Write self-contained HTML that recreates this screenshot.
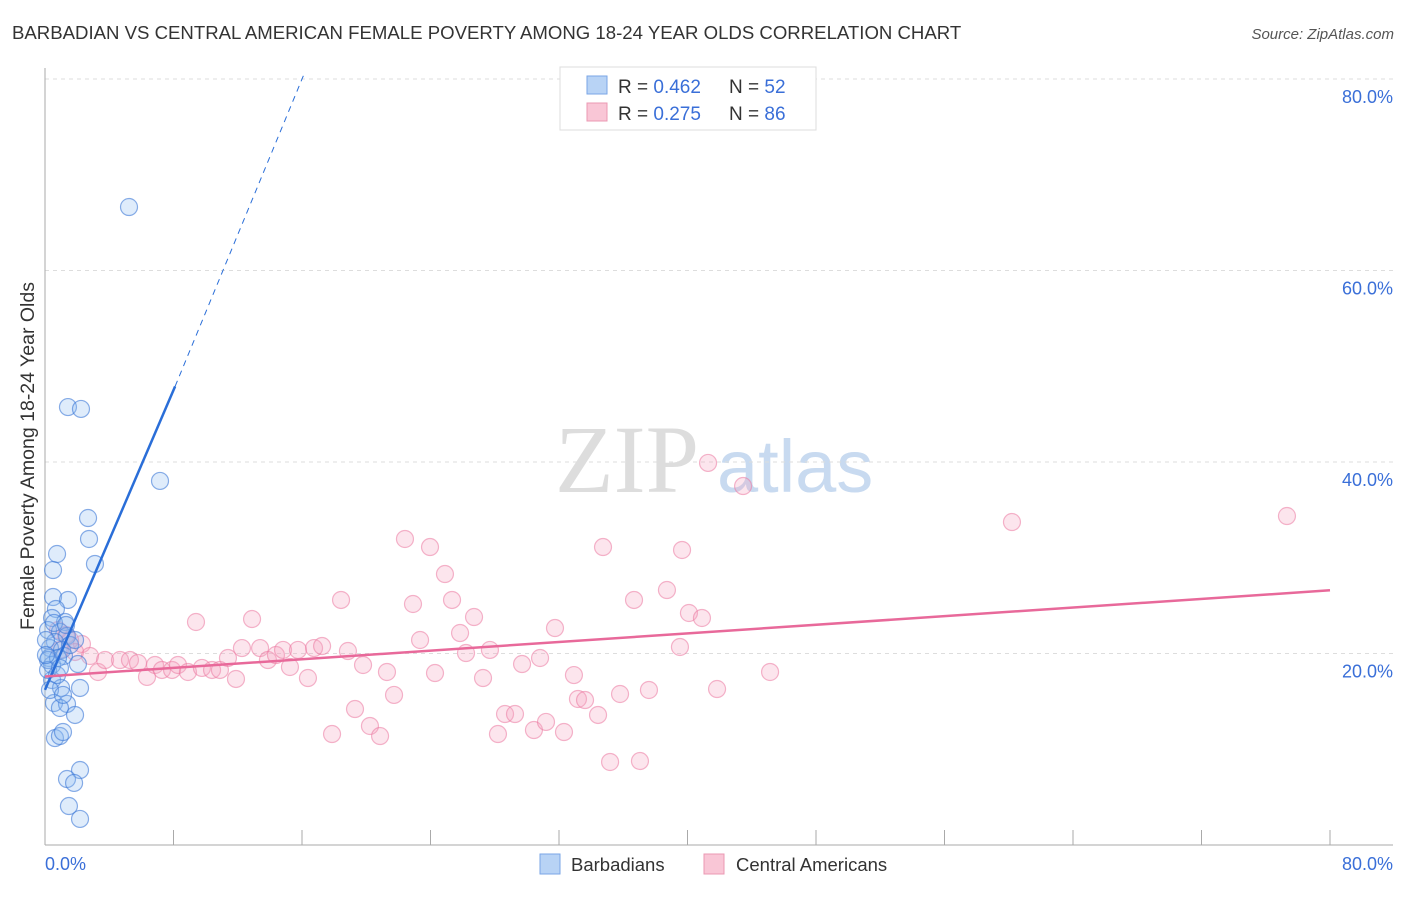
<!DOCTYPE html>
<html><head><meta charset="utf-8"><style>
body{margin:0;background:#fff;font-family:"Liberation Sans",sans-serif;}
</style></head><body>
<svg width="1406" height="892" xmlns="http://www.w3.org/2000/svg" font-family="Liberation Sans, sans-serif">
<text x="12" y="39" font-size="18.6" fill="#333">BARBADIAN VS CENTRAL AMERICAN FEMALE POVERTY AMONG 18-24 YEAR OLDS CORRELATION CHART</text>
<text x="1394" y="39" font-size="15" fill="#555" text-anchor="end" font-style="italic">Source: ZipAtlas.com</text>
<g><text x="555" y="492" font-size="96" fill="#ddd" font-family="Liberation Serif, serif">ZIP</text><text x="717" y="492" font-size="74" fill="#c8daf0">atlas</text></g>
<g id="grid"></g>
<g id="axes"></g>
<g id="pts"></g>
<g id="lines"></g>
<text transform="translate(34,456) rotate(-90)" font-size="19.5" fill="#333" text-anchor="middle">Female Poverty Among 18-24 Year Olds</text>
<text x="45" y="870" font-size="18" fill="#3a6fd8">0.0%</text>
<text x="1393" y="870" font-size="18" fill="#3a6fd8" text-anchor="end">80.0%</text>
<g>
<rect x="560" y="67" width="256" height="63" fill="#fff" stroke="#ddd"/>
<rect x="587" y="76" width="20" height="18" fill="#b8d3f5" stroke="#7aa6e6"/>
<rect x="587" y="103" width="20" height="18" fill="#f9c6d6" stroke="#eb98b3"/>
<text x="618" y="93" font-size="19" fill="#333">R = <tspan fill="#3a6fd8">0.462</tspan></text>
<text x="729" y="93" font-size="19" fill="#333">N = <tspan fill="#3a6fd8">52</tspan></text>
<text x="618" y="120" font-size="19" fill="#333">R = <tspan fill="#3a6fd8">0.275</tspan></text>
<text x="729" y="120" font-size="19" fill="#333">N = <tspan fill="#3a6fd8">86</tspan></text>
</g>
<g>
<rect x="540" y="854" width="20" height="20" fill="#b8d3f5" stroke="#7aa6e6"/>
<text x="571" y="871" font-size="18.5" fill="#333">Barbadians</text>
<rect x="704" y="854" width="20" height="20" fill="#f9c6d6" stroke="#eb98b3"/>
<text x="736" y="871" font-size="18.5" fill="#333">Central Americans</text>
</g>
</svg>
<script>
const yTicks=[20,40,60,80];
const xTicks=[0,8,16,24,32,40,48,56,64,72,80];
const bluePx=[[129,207],[68,407],[81,409],[160,481],[88,518],[89,539],[57,554],[95,564],[53,570],[53,597],[68,600],[56,609],[52,618],[65,622],[48,630],[60,632],[67,636],[55,642],[50,648],[62,650],[49,658],[64,656],[52,665],[78,664],[52,680],[61,688],[80,688],[54,703],[67,704],[60,708],[75,715],[55,738],[60,736],[63,732],[80,770],[67,779],[74,783],[69,806],[80,819],[48,660],[48,670],[57,675],[70,645],[54,623],[46,640],[58,658],[50,690],[63,695],[46,655],[60,668],[75,640],[66,625]];
const pinkPx=[[82,644],[70,640],[58,630],[66,635],[75,652],[90,656],[98,672],[105,660],[120,660],[130,660],[138,663],[147,677],[155,665],[162,670],[172,670],[178,665],[188,672],[196,622],[202,668],[212,670],[220,670],[228,658],[236,679],[242,648],[252,619],[260,648],[268,660],[276,655],[283,650],[290,667],[298,650],[308,678],[314,648],[322,646],[332,734],[341,600],[348,651],[355,709],[363,665],[370,726],[380,736],[387,672],[394,695],[405,539],[413,604],[420,640],[430,547],[435,673],[445,574],[452,600],[460,633],[466,653],[474,617],[483,678],[490,650],[498,734],[505,714],[515,714],[522,664],[534,730],[540,658],[546,722],[555,628],[564,732],[574,675],[578,699],[585,700],[598,715],[603,547],[610,762],[620,694],[634,600],[640,761],[649,690],[667,590],[680,647],[682,550],[689,613],[702,618],[708,463],[717,689],[743,486],[770,672],[1012,522],[1287,516],[60,650]];
// convert read pixel estimates into data values
const toD=p=>[+((p[0]-45)/1285*80).toFixed(2),+((845-p[1])/191.5*20).toFixed(2)];
const blueData=bluePx.map(toD), pinkData=pinkPx.map(toD);
const blueTrend=[[0,16.2],[8.1,47.9],[16.1,80.4]];
const pinkTrend=[[0,17.6],[80,26.6]];
const X=v=>45+v/80*1285, Y=v=>845-v/20*191.5;
const NS='http://www.w3.org/2000/svg';
function mk(t,a,p){const e=document.createElementNS(NS,t);for(const k in a)e.setAttribute(k,a[k]);p.appendChild(e);return e;}
const g=document.getElementById('grid'),ax=document.getElementById('axes');
yTicks.forEach(v=>{const l=mk('line',{x1:45,x2:1393,y1:Y(v),y2:Y(v),stroke:'#ddd','stroke-dasharray':'4,4'},g);

const t=mk('text',{x:1393,y:Y(v)+24,'font-size':18,fill:'#3a6fd8','text-anchor':'end'},ax);t.textContent=v.toFixed(1)+'%';
});
mk('line',{x1:45,x2:45,y1:68,y2:845,stroke:'#aaa'},ax);
mk('line',{x1:45,x2:1393,y1:845,y2:845,stroke:'#aaa'},ax);
xTicks.forEach(v=>{const l=mk('line',{x1:X(v),x2:X(v),y1:830,y2:845,stroke:'#aaa'},ax);
});
const pg=document.getElementById('pts');
pinkData.forEach(d=>{const c=mk('circle',{cx:X(d[0]),cy:Y(d[1]),r:8.5,fill:'rgba(245,160,190,0.28)',stroke:'rgba(235,120,160,0.55)','stroke-width':1.2},pg);
});
blueData.forEach(d=>{const c=mk('circle',{cx:X(d[0]),cy:Y(d[1]),r:8.5,fill:'rgba(140,185,240,0.28)',stroke:'rgba(60,120,215,0.6)','stroke-width':1.2},pg);
});
const lg=document.getElementById('lines');
let l1=mk('line',{x1:X(blueTrend[0][0]),y1:Y(blueTrend[0][1]),x2:X(blueTrend[1][0]),y2:Y(blueTrend[1][1]),stroke:'#2a6ed8','stroke-width':2.5},lg);

let l2=mk('line',{x1:X(blueTrend[1][0]),y1:Y(blueTrend[1][1]),x2:X(blueTrend[2][0]),y2:Y(blueTrend[2][1]),stroke:'#2a6ed8','stroke-width':1,'stroke-dasharray':'6,5'},lg);

let l3=mk('line',{x1:X(pinkTrend[0][0]),y1:Y(pinkTrend[0][1]),x2:X(pinkTrend[1][0]),y2:Y(pinkTrend[1][1]),stroke:'#e8699a','stroke-width':2.5},lg);

</script>
</body></html>
